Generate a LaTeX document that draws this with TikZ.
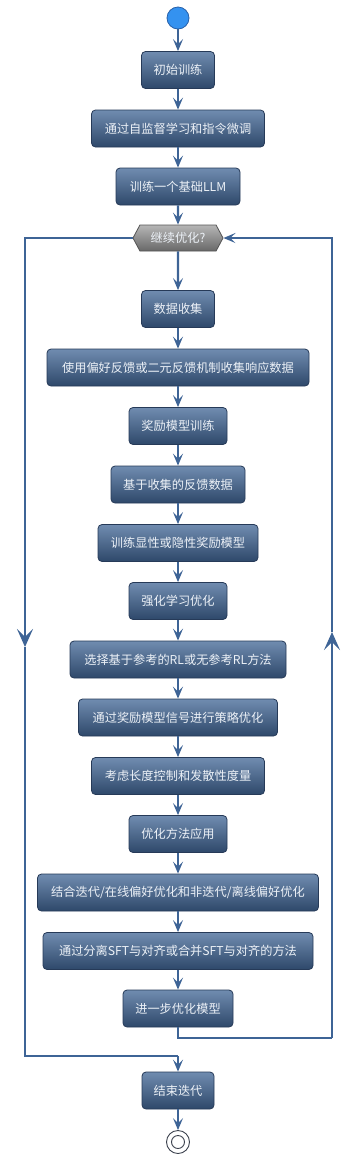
\documentclass[tikz,border=0pt]{standalone}
\usepackage{fontspec}
\setmainfont{Noto Sans CJK SC}
\usetikzlibrary{arrows.meta,shapes.symbols,positioning}
\definecolor{boxtop}{RGB}{112,140,176}
\definecolor{boxbot}{RGB}{46,72,106}
\definecolor{boxline}{RGB}{38,58,88}
\definecolor{conncol}{RGB}{62,100,150}
\definecolor{hextop}{RGB}{182,182,182}
\definecolor{hexbot}{RGB}{104,104,104}
\definecolor{hexline}{RGB}{84,84,84}
\definecolor{startfill}{RGB}{52,146,240}
\definecolor{startline}{RGB}{40,96,168}
\definecolor{endline}{RGB}{60,66,78}
\definecolor{txt}{RGB}{236,241,247}
\begin{document}
\begin{tikzpicture}[x=1pt,y=-1pt,
  stepbox/.style={rectangle, rounded corners=4pt, draw=boxline, line width=0.8pt,
    top color=boxtop, bottom color=boxbot, text=txt, minimum height=37pt,
    inner sep=0pt, font=\fontsize{12.2}{14}\selectfont},
  hexbox/.style={signal, signal to=west and east, signal pointer angle=124,
    draw=hexline, line width=0.8pt, top color=hextop, bottom color=hexbot,
    text=txt, minimum width=90pt, minimum height=26pt, inner sep=0pt,
    font=\fontsize{12.2}{14}\selectfont},
  conn/.style={draw=conncol, line width=2.2pt},
  tip/.style={-{Stealth[length=12pt,width=10pt,inset=5pt]}},
  bigtip/.style={-{Stealth[length=18pt,width=16pt,inset=8pt]}},
]
\useasboundingbox (0,0) rectangle (357,1163);
\node[circle, draw=startline, line width=0.8pt, fill=startfill, minimum size=22pt, inner sep=0pt] (start) at (178,18) {};
\node[stepbox, minimum width=73pt] (b1) at (178,70) {初始训练};
\node[stepbox, minimum width=173pt] (b2) at (178,128.5) {通过自监督学习和指令微调};
\node[stepbox, minimum width=124pt] (b3) at (178,186.5) {训练一个基础LLM};
\node[hexbox] (hex) at (178,238) {继续优化?};
\node[stepbox, minimum width=73pt] (b4) at (178,309) {数据收集};
\node[stepbox, minimum width=262pt] (b5) at (178,367.5) {使用偏好反馈或二元反馈机制收集响应数据};
\node[stepbox, minimum width=98pt] (b6) at (178,426) {奖励模型训练};
\node[stepbox, minimum width=134pt] (b7) at (178,484.5) {基于收集的反馈数据};
\node[stepbox, minimum width=160pt] (b8) at (178,543) {训练显性或隐性奖励模型};
\node[stepbox, minimum width=98pt] (b9) at (178,601) {强化学习优化};
\node[stepbox, minimum width=216pt] (b10) at (178,659.5) {选择基于参考的RL或无参考RL方法};
\node[stepbox, minimum width=199pt] (b11) at (178,717.5) {通过奖励模型信号进行策略优化};
\node[stepbox, minimum width=173pt] (b12) at (178,776) {考虑长度控制和发散性度量};
\node[stepbox, minimum width=98pt] (b13) at (178,834) {优化方法应用};
\node[stepbox, minimum width=281pt] (b14) at (178,892.5) {结合迭代/在线偏好优化和非迭代/离线偏好优化};
\node[stepbox, minimum width=270pt] (b15) at (178,951) {通过分离SFT与对齐或合并SFT与对齐的方法};
\node[stepbox, minimum width=110pt] (b16) at (178,1008.5) {进一步优化模型};
\node[stepbox, minimum width=72pt] (b17) at (178,1090.5) {结束迭代};
\node[circle, draw=endline, line width=0.9pt, fill=white, minimum size=23pt, inner sep=0pt] (stop) at (178,1142) {};
\node[circle, draw=endline, line width=0.9pt, minimum size=13pt, inner sep=0pt] (stopin) at (178,1142) {};
% straight connectors
\foreach \a/\b in {start/b1,b1/b2,b2/b3,b3/hex,hex/b4,b4/b5,b5/b6,b6/b7,b7/b8,b8/b9,b9/b10,b10/b11,b11/b12,b12/b13,b13/b14,b14/b15,b15/b16,b17/stop}
  \draw[conn,tip] (\a) -- (\b);
% left loop (exit)
\coordinate (lmid) at (25,647);
\coordinate (lbot) at (25,1056);
\coordinate (join) at (178,1056);
\draw[conn,bigtip] (hex.west) -| (lmid);
\draw[conn] (lmid) -- (lbot) -- (join);
\draw[conn,tip] (join) -- (b17.north);
% right loop (back)
\coordinate (rdown) at (178,1038);
\coordinate (rbot) at (332,1038);
\coordinate (rmid) at (332,632);
\coordinate (rtop) at (332,238);
\draw[conn] (b16.south) -- (rdown) -- (rbot);
\draw[conn,bigtip] (rbot) -- (rmid);
\draw[conn,tip] (rmid) -- (rtop) -- (hex.east);
\end{tikzpicture}
\end{document}
